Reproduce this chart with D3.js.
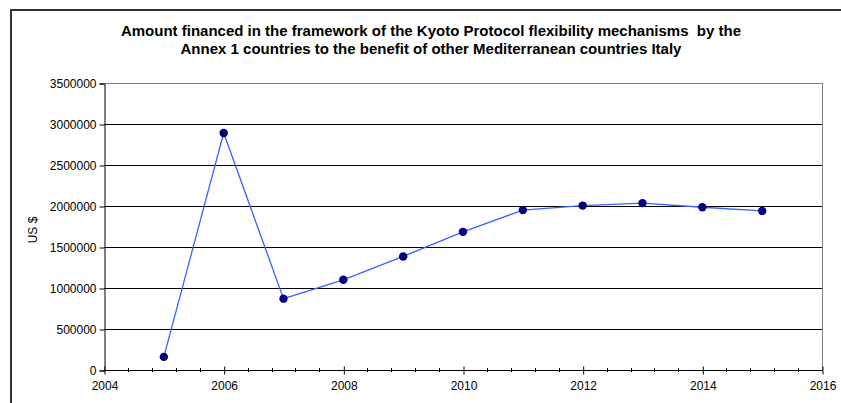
<!DOCTYPE html>
<html>
<head>
<meta charset="utf-8">
<script src="https://cdn.jsdelivr.net/npm/d3@7"></script>
<style>
  body { margin: 0; background: #fff; }
  svg { font-family: "Liberation Sans", Arial, sans-serif; }
</style>
</head>
<body>
<div id="graf"></div>
<script>
// Datos
const years = [2005, 2006, 2007, 2008, 2009, 2010, 2011, 2012, 2013, 2014, 2015];
const amounts = [160000, 2890000, 870000, 1100000, 1385000, 1685000, 1950000, 2005000, 2035000, 1985000, 1940000];
const yTicks = [0, 500000, 1000000, 1500000, 2000000, 2500000, 3000000, 3500000];
const xTicks = [2004, 2006, 2008, 2010, 2012, 2014, 2016];
const titleLines = [
  "Amount financed in the framework of the Kyoto Protocol flexibility mechanisms  by the",
  "Annex 1 countries to the benefit of other Mediterranean countries Italy"
];

// Dimensiones
const anchoTotal = 841, altoTotal = 403;
const margins = { top: 83, right: 19, bottom: 33, left: 104 };
const ancho = anchoTotal - margins.left - margins.right;
const alto = altoTotal - margins.top - margins.bottom;

const svg = d3.select("#graf").append("svg")
  .attr("width", anchoTotal)
  .attr("height", altoTotal);

// marco exterior
svg.append("rect")
  .attr("x", 11).attr("y", 10)
  .attr("width", 900).attr("height", 500)
  .attr("fill", "none")
  .attr("stroke", "#333")
  .attr("stroke-width", 2);

// titulo
svg.append("g").selectAll("text")
  .data(titleLines)
  .join("text")
  .attr("x", 431)
  .attr("y", (d, i) => 36 + i * 18)
  .attr("text-anchor", "middle")
  .style("font-size", "15px")
  .style("font-weight", "bold")
  .style("white-space", "pre")
  .text(d => d);

const g = svg.append("g")
  .attr("transform", `translate(${margins.left}, ${margins.top})`);

const x = d3.scaleLinear().domain([2004, 2016]).range([0, ancho]);
const y = d3.scaleLinear().domain([0, 3500000]).range([alto, 0]);

// lineas de grilla
g.selectAll("line.grid")
  .data(yTicks.slice(1, -1))
  .join("line")
  .attr("class", "grid")
  .attr("x1", 0).attr("x2", ancho)
  .attr("y1", d => y(d) + 0.5).attr("y2", d => y(d) + 0.5)
  .attr("stroke", "#000")
  .attr("stroke-width", 1);

// borde del area
g.append("path")
  .attr("d", `M0.5,${y(3500000) + 0.5}H${ancho + 0.5}V${alto}`)
  .attr("fill", "none")
  .attr("stroke", "#808080");

// eje y
const yAxis = g.append("g")
  .attr("transform", "translate(0.5,0.5)")
  .call(d3.axisLeft(y).tickValues(yTicks).tickFormat(d3.format("d")).tickSize(5).tickPadding(3));
yAxis.select(".domain").attr("stroke", "#000");
yAxis.selectAll("text").style("font-size", "12px").attr("fill", "#000");

// eje x con ticks menores
const minor = d3.range(2004, 2016.01, 0.4).filter(v => Math.abs(v - Math.round(v / 2) * 2) > 0.01);
g.append("g")
  .selectAll("line")
  .data(minor)
  .join("line")
  .attr("x1", d => Math.round(x(d)) + 0.5).attr("x2", d => Math.round(x(d)) + 0.5)
  .attr("y1", alto - 2).attr("y2", alto + 2)
  .attr("stroke", "#000");

const xAxis = g.append("g")
  .attr("transform", `translate(0.5,${alto + 0.5})`)
  .call(d3.axisBottom(x).tickValues(xTicks).tickFormat(d3.format("d")).tickSize(4).tickPadding(7));
xAxis.select(".domain").attr("stroke", "#000").attr("d", `M0,0H${ancho}`);
xAxis.selectAll(".tick line").attr("y1", -4);
xAxis.selectAll("text").style("font-size", "12px").attr("fill", "#000");

// etiqueta eje y
svg.append("text")
  .attr("transform", "translate(37,230) rotate(-90)")
  .attr("text-anchor", "middle")
  .style("font-size", "12px")
  .text("US $");

// serie
const datos = years.map((d, i) => ({ year: d, value: amounts[i] }));
g.append("path")
  .datum(datos)
  .attr("fill", "none")
  .attr("stroke", "#3366ff")
  .attr("stroke-width", 1.3)
  .attr("d", d3.line().x(d => x(d.year)).y(d => y(d.value)));

g.selectAll("circle")
  .data(datos)
  .join("circle")
  .attr("cx", d => x(d.year))
  .attr("cy", d => y(d.value))
  .attr("r", 4.2)
  .attr("fill", "#000080");
</script>
</body>
</html>
